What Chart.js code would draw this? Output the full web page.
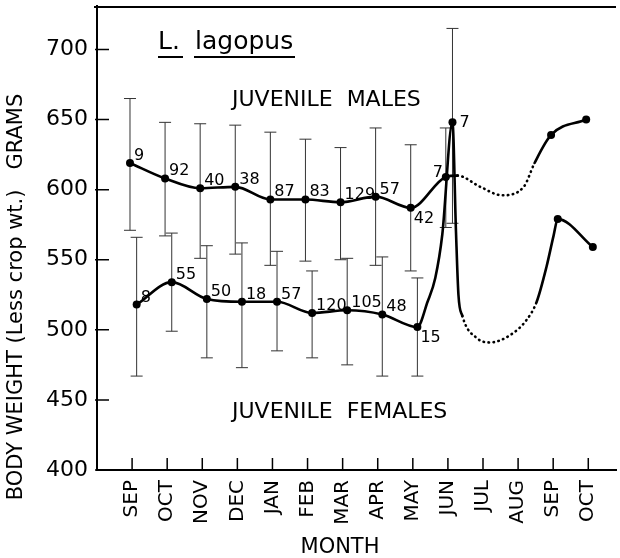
<!DOCTYPE html>
<html>
<head>
<meta charset="utf-8">
<script src="https://cdn.jsdelivr.net/npm/chart.js@4.4.1/dist/chart.umd.min.js"></script>
<style>
  html, body { margin: 0; padding: 0; background: #fff; }
  #wrap { width: 620px; height: 558px; }
</style>
</head>
<body>
<div id="wrap"><canvas id="chart" width="620" height="558"></canvas></div>
<script>
const months = ["SEP", "OCT", "NOV", "DEC", "JAN", "FEB", "MAR", "APR", "MAY", "JUN", "JUL", "AUG", "SEP", "OCT"];
const yTicks = [400, 450, 500, 550, 600, 650, 700];

// juvenile males
const maleMean = [619, 608, 601, 602, 593, 593, 591, 595, 587, 609, null, null, 639, 650];
const maleN = ["9", "92", "40", "38", "87", "83", "129", "57", "42", "7"];
const maleHigh = [665, 648, 647, 646, 641, 636, 630, 644, 632, 644];
const maleLow = [571, 567, 551, 554, 546, 549, 550, 546, 542, 573];
// extra readings of the hand drawn curve between the monthly means
const maleBendX = [9.27, 9.92, 10.54, 11.16, 11.47];
const maleBendY = [610, 602, 596, 602, 619];
const maleDotted = [9.27, 11.47];

// juvenile females
const femaleMean = [518, 534, 522, 520, 520, 512, 514, 511, 502, 648, null, null, 579, 559];
const femaleN = ["8", "55", "50", "18", "57", "120", "105", "48", "15", "7"];
const femaleHigh = [566, 569, 560, 562, 556, 542, 551, 552, 537, 715];
const femaleLow = [467, 499, 480, 473, 485, 480, 475, 467, 467, 576];
const femaleBendX = [8.42, 8.64, 8.84, 9.23, 9.3, 9.41, 9.83, 10.2, 10.76, 11.24, 11.53, 11.81, 12.01];
const femaleBendY = [520, 537, 568, 570, 525, 510, 494, 491, 496, 507, 520, 545, 567];
const femaleDotted = [9.41, 11.53];

const maleOff = -0.06, femaleOff = 0.13;
const FONT = "DejaVu Sans";

const meanPoints = (mean, off) => mean.map((v, i) => v === null ? null : { x: i + off, y: v }).filter(p => p);
const curvePoints = (mean, off, bx, by) =>
    meanPoints(mean, off).concat(bx.map((x, k) => ({ x, y: by[k] }))).sort((a, b) => a.x - b.x);

const curveSet = (pts, dotted) => ({
    data: pts,
    borderColor: "#000",
    borderWidth: 2.6,
    borderCapStyle: "round",
    pointRadius: 0,
    cubicInterpolationMode: "monotone",
    segment: {
        borderDash: ctx => (ctx.p0.parsed.x >= dotted[0] - 0.001 && ctx.p1.parsed.x <= dotted[1] + 0.001) ? [0.5, 4.5] : undefined
    }
});
const pointSet = pts => ({
    data: pts, showLine: false, pointRadius: 4, pointBackgroundColor: "#000", pointBorderColor: "#000", borderWidth: 0
});

const decor = {
    id: "decor",
    beforeDatasetsDraw(chart) {
        const { ctx, scales: { x, y } } = chart;
        ctx.save();
        ctx.strokeStyle = "#333";
        ctx.lineWidth = 1;
        const bars = (hi, lo, off) => hi.forEach((h, i) => {
            const px = x.getPixelForValue(i + off);
            const top = y.getPixelForValue(h), bot = y.getPixelForValue(lo[i]);
            ctx.beginPath();
            ctx.moveTo(px, top); ctx.lineTo(px, bot);
            ctx.moveTo(px - 6, top); ctx.lineTo(px + 6, top);
            ctx.moveTo(px - 6, bot); ctx.lineTo(px + 6, bot);
            ctx.stroke();
        });
        bars(maleHigh, maleLow, maleOff);
        bars(femaleHigh, femaleLow, femaleOff);
        ctx.restore();
    },
    afterDraw(chart) {
        const { ctx, chartArea: a, scales: { x, y } } = chart;
        ctx.save();
        ctx.strokeStyle = "#000";
        ctx.fillStyle = "#000";
        // frame top line
        ctx.lineWidth = 2;
        ctx.beginPath();
        ctx.moveTo(a.left - 3, y.top + 1);
        ctx.lineTo(a.right, y.top + 1);
        ctx.stroke();
        // inward ticks
        ctx.lineWidth = 1.5;
        ctx.beginPath();
        yTicks.forEach(v => {
            const py = y.getPixelForValue(v);
            ctx.moveTo(a.left - 2, py); ctx.lineTo(a.left + 12, py);
        });
        months.forEach((m, i) => {
            const px = x.getPixelForValue(i);
            ctx.moveTo(px, a.bottom); ctx.lineTo(px, a.bottom - 12);
        });
        ctx.stroke();

        // sample sizes
        ctx.font = "16px " + FONT;
        const labels = (mean, n, off, sex) => n.forEach((t, i) => {
            const px = x.getPixelForValue(i + off), py = y.getPixelForValue(mean[i]);
            ctx.textAlign = "left";
            if (i === 8) {
                ctx.fillText(t, px + 3, py + 15);
            } else if (i === 9 && sex === "m") {
                ctx.textAlign = "right";
                ctx.fillText(t, px - 3, py);
            } else if (i === 9) {
                ctx.fillText(t, px + 7, py + 5);
            } else {
                ctx.fillText(t, px + 4, py - 3);
            }
        });
        labels(maleMean, maleN, maleOff, "m");
        labels(femaleMean, femaleN, femaleOff, "f");

        // annotations
        ctx.textAlign = "left";
        ctx.font = "22px " + FONT;
        ctx.fillText("JUVENILE  MALES", 232, 106);
        ctx.fillText("JUVENILE  FEMALES", 232, 418);
        ctx.font = "25px " + FONT;
        ctx.fillText("L.", 158, 49);
        ctx.fillText("lagopus", 195, 49);
        ctx.lineWidth = 2;
        ctx.beginPath();
        ctx.moveTo(158, 57); ctx.lineTo(183, 57);
        ctx.moveTo(194, 57); ctx.lineTo(295, 57);
        ctx.stroke();

        // axis titles
        ctx.font = "21px " + FONT;
        ctx.textAlign = "center";
        ctx.fillText("MONTH", 340, 553);
        ctx.translate(17, 297);
        ctx.rotate(-Math.PI / 2);
        ctx.textBaseline = "middle";
        ctx.fillText("BODY WEIGHT (Less crop wt.)   GRAMS", 0, 0);
        ctx.restore();
    }
};

new Chart(document.getElementById("chart"), {
    type: "line",
    data: {
        datasets: [
            curveSet(curvePoints(maleMean, maleOff, maleBendX, maleBendY), maleDotted),
            curveSet(curvePoints(femaleMean, femaleOff, femaleBendX, femaleBendY), femaleDotted),
            pointSet(meanPoints(maleMean, maleOff)),
            pointSet(meanPoints(femaleMean, femaleOff))
        ]
    },
    options: {
        responsive: false,
        animation: false,
        layout: { padding: { top: 6, right: 0, left: 0, bottom: 0 } },
        plugins: { legend: { display: false }, tooltip: { enabled: false } },
        scales: {
            x: {
                type: "linear",
                min: -1,
                max: 13.79,
                grid: { display: false, drawTicks: false },
                border: { display: true, color: "#000", width: 2 },
                ticks: {
                    stepSize: 1,
                    autoSkip: false,
                    includeBounds: false,
                    maxRotation: 90,
                    minRotation: 90,
                    padding: 10,
                    color: "#000",
                    font: { family: FONT, size: 20 },
                    callback: v => (v >= 0 && months[v]) ? months[v] : ""
                },
                afterFit: s => { s.height = 88; s.paddingLeft = 0; s.paddingRight = 0; }
            },
            y: {
                min: 400,
                max: 731,
                grid: { display: false, drawTicks: false },
                border: { display: true, color: "#000", width: 2 },
                ticks: {
                    stepSize: 50,
                    includeBounds: false,
                    padding: 9,
                    color: "#000",
                    font: { family: FONT, size: 22 }
                },
                afterFit: s => { s.width = 97; s.paddingTop = 0; s.paddingBottom = 0; }
            }
        }
    },
    plugins: [decor]
});
</script>
</body>
</html>
